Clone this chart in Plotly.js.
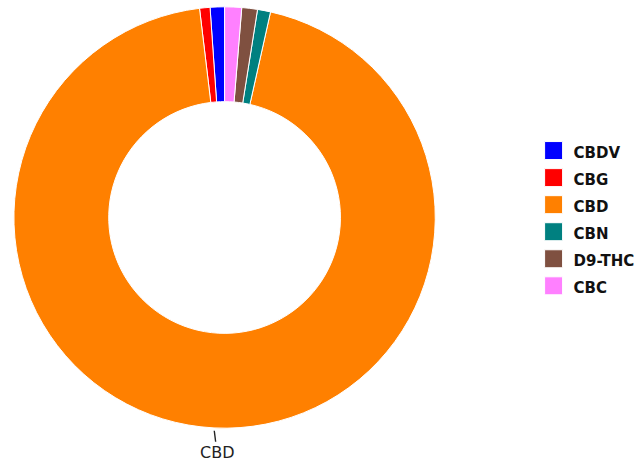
<!DOCTYPE html>
<html>
<head>
<meta charset="utf-8">
<script src="https://cdn.plot.ly/plotly-3.0.1.min.js"></script>
<style>html,body{margin:0;padding:0;background:#fff}#chart{width:640px;height:463px}</style>
</head>
<body>
<div id="chart"></div>
<script>
const labels = ['CBDV', 'CBG', 'CBD', 'CBN', 'D9-THC', 'CBC'];
const values = [1.1, 0.8, 94.6, 1.0, 1.2, 1.3];
const colors = ['#0000ff', '#ff0000', '#ff8000', '#008080', '#7f5040', '#ff80ff'];
const labelledSlice = 'CBD';

const W = 640, H = 463;
const dom = {x: [14 / W, 438 / W], y: [1 - 429 / H, 1 - 6 / H]};
const total = values.reduce((a, b) => a + b, 0);
const legendLabels = labels.map(l => "<span style='font-size:15px'>" + l + "</span>");

// angular midpoint of the labelled slice (counterclockwise from 12 o'clock)
const k = labels.indexOf(labelledSlice);
const before = values.slice(0, k).reduce((a, b) => a + b, 0);
const theta = 2 * Math.PI * (before + values[k] / 2) / total;
const cxPx = (dom.x[0] + dom.x[1]) / 2 * W;
const cyPx = (1 - (dom.y[0] + dom.y[1]) / 2) * H;
const rPx = Math.min((dom.x[1] - dom.x[0]) * W, (dom.y[1] - dom.y[0]) * H) / 2;
const edgeX = (cxPx - rPx * Math.sin(theta)) / W;
const edgeY = 1 - (cyPx - rPx * Math.cos(theta)) / H;

const data = [{
  type: 'pie',
  labels: legendLabels,
  values: values,
  textinfo: 'none',
  hoverinfo: 'label+value',
  sort: false,
  direction: 'counterclockwise',
  rotation: -values[0] / total * 360,
  hole: 0.55,
  marker: {colors: colors, line: {color: '#ffffff', width: 1}},
  domain: dom
}];
const layout = {
  width: W, height: H,
  margin: {l: 0, r: 0, t: 0, b: 0},
  paper_bgcolor: '#fff',
  showlegend: true,
  legend: {
    x: 0.839, y: 0.528, xanchor: 'left', yanchor: 'middle',
    font: {family: 'DejaVu Sans', size: 18.5, color: '#111', weight: 'bold'},
    tracegroupgap: 0
  },
  font: {family: 'DejaVu Sans'},
  annotations: [{
    xref: 'paper', yref: 'paper', x: edgeX, y: edgeY,
    text: labelledSlice, showarrow: true, arrowhead: 0, arrowwidth: 1.4,
    arrowcolor: '#222', ax: 3, ay: 24, standoff: 2,
    font: {family: 'DejaVu Sans', size: 16, color: '#222'}
  }]
};
Plotly.newPlot('chart', data, layout, {staticPlot: true}).then(gd => {
  gd.querySelectorAll('.legend .legendpoints path').forEach(p => {
    p.setAttribute('d', 'M9,9H-9V-9H9Z');
  });
});
</script>
</body>
</html>
